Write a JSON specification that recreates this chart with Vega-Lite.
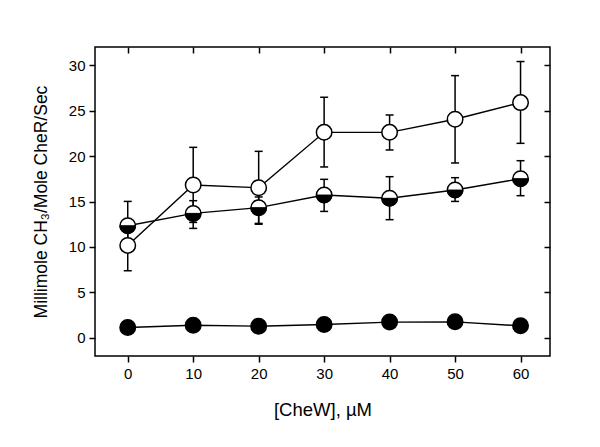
{
  "$schema": "https://vega.github.io/schema/vega-lite/v6.json",
  "width": 455,
  "height": 309,
  "autosize": "none",
  "padding": {"left": 95, "top": 47, "right": 50, "bottom": 91},
  "background": "white",
  "config": {
    "view": {"stroke": "black", "strokeWidth": 1.5},
    "font": "Liberation Sans",
    "axis": {"grid": false, "domain": false, "tickColor": "black", "tickWidth": 1.5, "labelColor": "black", "titleColor": "black", "labelFont": "Liberation Sans", "titleFont": "Liberation Sans", "labelFontSize": 15, "titleFontSize": 17.5, "titleFontWeight": "normal"}
  },
  "data": {
    "values": [
      {"series": "open", "x": 0, "y": 10.17, "lo": 7.38, "hi": 12.9},
      {"series": "open", "x": 10, "y": 16.81, "lo": 12.7, "hi": 20.96},
      {"series": "open", "x": 20, "y": 16.52, "lo": 12.5, "hi": 20.52},
      {"series": "open", "x": 30, "y": 22.61, "lo": 18.8, "hi": 26.47},
      {"series": "open", "x": 40, "y": 22.61, "lo": 20.67, "hi": 24.52},
      {"series": "open", "x": 50, "y": 24.05, "lo": 19.24, "hi": 28.85},
      {"series": "open", "x": 60, "y": 25.88, "lo": 21.4, "hi": 30.4},
      {"series": "half", "x": 0, "y": 12.33, "lo": 9.7, "hi": 15.01},
      {"series": "half", "x": 10, "y": 13.69, "lo": 12.04, "hi": 15.09},
      {"series": "half", "x": 20, "y": 14.32, "lo": 12.59, "hi": 15.5},
      {"series": "half", "x": 30, "y": 15.71, "lo": 13.91, "hi": 17.44},
      {"series": "half", "x": 40, "y": 15.35, "lo": 13.0, "hi": 17.73},
      {"series": "half", "x": 50, "y": 16.26, "lo": 15.01, "hi": 17.62},
      {"series": "half", "x": 60, "y": 17.51, "lo": 15.64, "hi": 19.49},
      {"series": "filled", "x": 0, "y": 1.14, "lo": null, "hi": null},
      {"series": "filled", "x": 10, "y": 1.39, "lo": null, "hi": null},
      {"series": "filled", "x": 20, "y": 1.28, "lo": null, "hi": null},
      {"series": "filled", "x": 30, "y": 1.47, "lo": null, "hi": null},
      {"series": "filled", "x": 40, "y": 1.73, "lo": null, "hi": null},
      {"series": "filled", "x": 50, "y": 1.76, "lo": null, "hi": null},
      {"series": "filled", "x": 60, "y": 1.32, "lo": null, "hi": null}
    ]
  },
  "resolve": {"axis": {"x": "independent", "y": "independent"}},
  "layer": [
    {
      "mark": {"type": "line", "color": "black", "strokeWidth": 1.4},
      "encoding": {
        "x": {"field": "x", "type": "quantitative", "scale": {"domain": [-5, 64.5], "nice": false, "zero": false},
              "axis": {"orient": "bottom", "values": [0, 10, 20, 30, 40, 50, 60], "tickSize": 6, "labelPadding": 4, "title": "[CheW], µM", "titleFontSize": 18.5, "titlePadding": 19}},
        "y": {"field": "y", "type": "quantitative", "scale": {"domain": [-2, 32], "nice": false, "zero": false},
              "axis": {"orient": "left", "values": [0, 5, 10, 15, 20, 25, 30], "tickSize": 6, "labelPadding": 4, "title": "Millimole CH₃/Mole CheR/Sec", "titlePadding": 18}},
        "detail": {"field": "series"}
      }
    },
    {
      "mark": {"type": "rule", "color": "black", "opacity": 0},
      "encoding": {
        "x": {"field": "x", "type": "quantitative", "axis": {"orient": "top", "values": [0, 10, 20, 30, 40, 50, 60], "tickSize": -6, "labels": false, "title": null}},
        "y": {"field": "y", "type": "quantitative", "axis": {"orient": "right", "values": [0, 5, 10, 15, 20, 25, 30], "tickSize": -6, "labels": false, "title": null}}
      }
    },
    {
      "transform": [{"filter": "datum.lo != null"}],
      "mark": {"type": "rule", "color": "black", "strokeWidth": 1.5},
      "encoding": {
        "x": {"field": "x", "type": "quantitative", "axis": null},
        "y": {"field": "lo", "type": "quantitative", "axis": null},
        "y2": {"field": "hi"}
      }
    },
    {
      "transform": [{"filter": "datum.lo != null"}],
      "mark": {"type": "tick", "orient": "horizontal", "color": "black", "size": 8, "thickness": 1.5, "opacity": 1},
      "encoding": {
        "x": {"field": "x", "type": "quantitative", "axis": null},
        "y": {"field": "lo", "type": "quantitative", "axis": null}
      }
    },
    {
      "transform": [{"filter": "datum.lo != null"}],
      "mark": {"type": "tick", "orient": "horizontal", "color": "black", "size": 8, "thickness": 1.5, "opacity": 1},
      "encoding": {
        "x": {"field": "x", "type": "quantitative", "axis": null},
        "y": {"field": "hi", "type": "quantitative", "axis": null}
      }
    },
    {
      "mark": {"type": "point", "shape": "circle", "size": 240, "stroke": "black", "strokeWidth": 1.5, "opacity": 1, "filled": true},
      "encoding": {
        "x": {"field": "x", "type": "quantitative", "axis": null},
        "y": {"field": "y", "type": "quantitative", "axis": null},
        "fill": {"field": "series", "type": "nominal", "scale": {"domain": ["open", "half", "filled"], "range": ["white", "white", "black"]}, "legend": null}
      }
    },
    {
      "transform": [{"filter": "datum.series == 'half'"}],
      "mark": {"type": "point", "shape": "M -1 0 A 1 1 0 0 0 1 0 Z", "size": 240, "fill": "black", "filled": true, "stroke": "black", "strokeWidth": 1, "opacity": 1},
      "encoding": {
        "x": {"field": "x", "type": "quantitative", "axis": null},
        "y": {"field": "y", "type": "quantitative", "axis": null}
      }
    }
  ]
}
